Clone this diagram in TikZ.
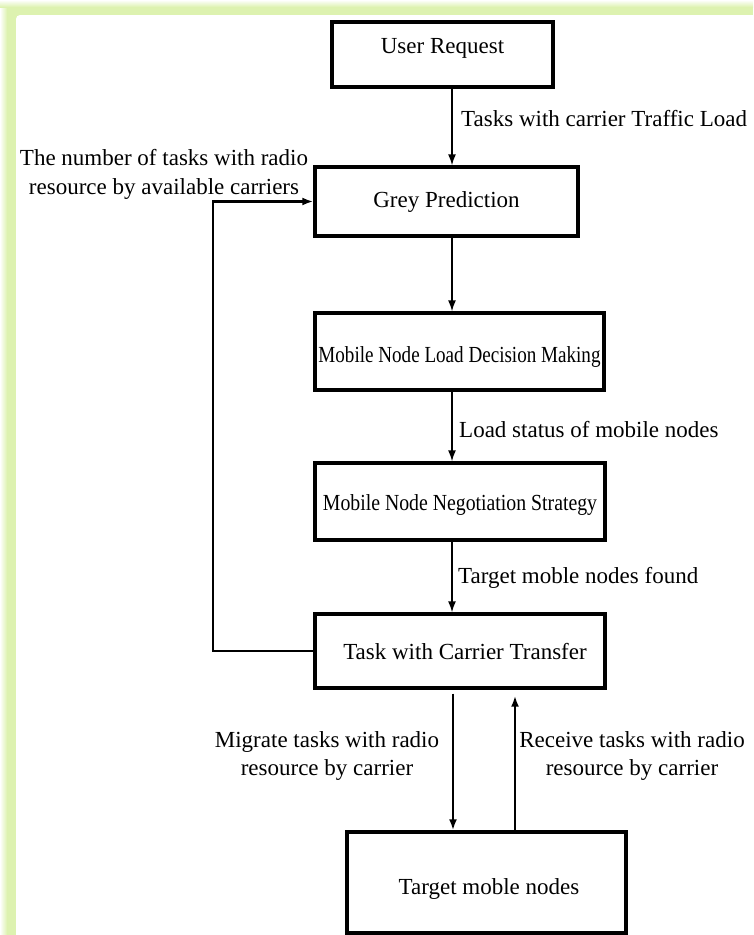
\documentclass[tikz,border=0pt]{standalone}
\usepackage{fontspec}
\usepackage{graphicx}
\setmainfont{Liberation Serif}
\usetikzlibrary{arrows.meta}
\definecolor{glowgreen}{RGB}{221,242,176}
\begin{document}
\begin{tikzpicture}[x=1pt,y=-1pt,
  every node/.style={font=\fontsize{23}{28.5}\selectfont, inner sep=0pt},
  procbox/.style={draw, line width=3.4pt, rectangle, inner sep=0pt},
  flow/.style={line width=1.4pt, -{Latex[length=11pt,width=8pt]}},
  flowthick/.style={line width=2.4pt, -{Latex[length=11pt,width=8pt]}}
]
\useasboundingbox (0,0) rectangle (753,935);
% background glow frame
\fill[glowgreen] (0,0) rectangle (753,935);
\shade[left color=white,right color=glowgreen] (0,0) rectangle (7,935);
\shade[top color=white,bottom color=glowgreen] (0,0) rectangle (753,7);
\fill[white, rounded corners=4pt] (16,15) rectangle (770,950);

% boxes
\node[procbox, minimum width=221pt, minimum height=65pt, text height=14.1pt, text depth=15.9pt] (ur) at (442.5,54.5) {User Request};
\node[procbox, minimum width=263pt, minimum height=69pt, text height=21.1pt, text depth=8.9pt] (gp) at (446.5,201.5) {Grey Prediction};
\node[procbox, minimum width=289pt, minimum height=77pt, text height=26.1pt, text depth=3.9pt] (ld) at (459.5,351.5) {\scalebox{0.83}[1]{Mobile Node Load Decision Making}};
\node[procbox, minimum width=290pt, minimum height=77pt, text height=24.1pt, text depth=5.9pt] (ns) at (460,501.5) {\scalebox{0.86}[1]{Mobile Node Negotiation Strategy}};
\node[procbox, minimum width=290pt, minimum height=74pt, text height=23.6pt, text depth=6.4pt] (tc) at (460,651) {\hspace*{10pt}Task with Carrier Transfer};
\node[procbox, minimum width=279pt, minimum height=101pt, text height=27.1pt, text depth=2.9pt] (tm) at (486.5,882.5) {\hspace*{5pt}Target moble nodes};

% connectors
\draw[flow] ([xshift=9.5pt]ur.south) -- ([xshift=9.5pt]ur.south |- gp.north);
\draw[flow] ([xshift=5.5pt]gp.south) -- ([xshift=5.5pt]gp.south |- ld.north);
\draw[flow] ([xshift=-7.5pt]ld.south) -- ([xshift=-7.5pt]ld.south |- ns.north);
\draw[flow] ([xshift=-8pt]ns.south) -- ([xshift=-8pt]ns.south |- tc.north);
\draw[flowthick] ([xshift=-7pt,yshift=-4pt]tc.south) -- ([xshift=-7pt]tc.south |- tm.north);
\draw[flowthick] ([xshift=55pt]tc.south |- tm.north) -- ([xshift=55pt,yshift=-6pt]tc.south);
\draw[flowthick] (tc.west) -- ++(-100.5,0) |- (gp.west);

% labels
\node[anchor=base west] (l1) at (461,126) {Tasks with carrier Traffic Load};
\node[anchor=base west] (l2) at (459,437) {Load status of mobile nodes};
\node[anchor=base west] (l3) at (458,583) {Target moble nodes found};
\node[anchor=north, align=center] (l4) at (164,149.5) {The number of tasks with radio\\resource by available carriers};
\node[anchor=north, align=center] (l5) at (327,731.3) {Migrate tasks with radio\\resource by carrier};
\node[anchor=north, align=center] (l6) at (632,731.3) {Receive tasks with radio\\resource by carrier};
\end{tikzpicture}
\end{document}
